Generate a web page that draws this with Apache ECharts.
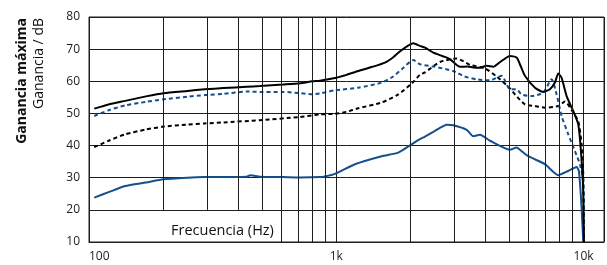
<!DOCTYPE html>
<html>
<head>
<meta charset="utf-8">
<script src="https://cdn.jsdelivr.net/npm/echarts@6/dist/echarts.min.js"></script>
<style>
  html, body { margin: 0; padding: 0; background: #fff; }
  #chart { width: 607px; height: 265px; }
</style>
</head>
<body>
<div id="chart"></div>
<script>
// ---- data ----
var maxFreq = [105, 120, 140, 170, 200, 250, 294, 350, 434, 491, 609, 713, 800, 859, 988, 1100, 1227, 1400, 1574, 1700, 1781, 1900, 2048, 2180, 2285, 2468, 2700, 2883, 3164, 3400, 3580, 3800, 4057, 4314, 4600, 5040, 5364, 5530, 5794, 6362, 6871, 7313, 7661, 7902, 8152, 8543, 9088, 9520, 9760, 9972, 10040];
var maxGain = [51.5, 52.8, 53.9, 55.3, 56.3, 57.0, 57.5, 57.9, 58.3, 58.5, 59.0, 59.4, 60.0, 60.2, 61.0, 62.0, 63.2, 64.5, 65.8, 67.5, 68.9, 70.5, 71.8, 71.0, 70.5, 68.9, 67.8, 66.9, 64.5, 64.6, 64.3, 64.2, 64.8, 64.5, 66.0, 67.9, 67.4, 65.3, 61.7, 58.0, 56.7, 57.5, 59.6, 62.4, 61.1, 55.4, 50.7, 46.6, 38.3, 25.8, 10];

var blueDashFreq = [105, 120, 140, 170, 200, 250, 294, 350, 434, 491, 609, 713, 800, 859, 988, 1227, 1526, 1700, 1838, 2048, 2180, 2468, 2972, 3300, 3696, 4183, 4665, 5040, 5364, 5619, 6170, 6871, 7430, 7785, 8152, 8676, 9230, 9670, 9972, 10040];
var blueDashGain = [49.2, 51.0, 52.5, 53.6, 54.4, 55.2, 55.7, 56.1, 56.8, 56.7, 56.7, 56.3, 56.0, 56.2, 57.2, 58.0, 59.6, 61.5, 63.7, 66.6, 65.3, 64.6, 63.2, 61.5, 60.6, 60.3, 61.7, 57.5, 57.5, 55.9, 55.4, 56.5, 60.6, 55.9, 49.2, 43.5, 38.3, 34.2, 29.0, 10];

var blackDashFreq = [105, 120, 140, 170, 200, 250, 294, 350, 491, 713, 859, 988, 1100, 1227, 1526, 1781, 2018, 2180, 2285, 2627, 3069, 3472, 3994, 4452, 5040, 5300, 5794, 6362, 6982, 7902, 8412, 9088, 9520, 9824, 9972, 10040];
var blackDashGain = [39.5, 41.5, 43.5, 45.0, 45.9, 46.5, 46.9, 47.2, 47.9, 48.9, 49.7, 49.9, 50.5, 51.6, 53.4, 55.9, 59.3, 62.0, 62.8, 66.0, 67.1, 65.1, 64.0, 61.5, 57.8, 55.8, 52.8, 52.3, 51.8, 52.3, 53.7, 50.2, 47.6, 40.4, 31.0, 10];

var blueFreq = [105, 120, 140, 170, 200, 250, 294, 434, 450, 491, 609, 713, 859, 900, 988, 1190, 1526, 1781, 2018, 2180, 2285, 2500, 2800, 2972, 3368, 3580, 3812, 4183, 5040, 5364, 5530, 5976, 6982, 7902, 8676, 9378, 9581, 9824, 9972];
var blueGain = [23.8, 25.5, 27.4, 28.5, 29.5, 30.0, 30.2, 30.3, 30.8, 30.3, 30.2, 30.1, 30.2, 30.4, 31.2, 34.2, 36.7, 37.8, 40.4, 42.0, 42.8, 44.5, 46.5, 46.3, 44.9, 42.9, 43.4, 41.5, 38.7, 39.4, 38.7, 36.7, 34.2, 30.8, 32.1, 33.3, 32.0, 20.6, 10];

// minor grid frequencies (log grid)
var minorShort = [200, 300, 400, 500];
var minorFull = [600, 700, 800, 900, 2000, 3000, 4000, 5000, 6000, 7000, 8000, 9000];
var yTicks = { min: 10, max: 80, step: 10 };

function pairs(xs, ys) {
  return xs.map(function (x, i) { return [x, ys[i]]; });
}

var FONT = "'Open Sans', 'Noto Sans', sans-serif";
var GRID_COLOR = '#1e1e1e';
var BLUE = '#14508c';

var gridLines = [];
minorShort.forEach(function (f) {
  gridLines.push([{ coord: [f, 20] }, { coord: [f, 80] }]);
});
minorFull.forEach(function (f) {
  gridLines.push([{ coord: [f, 10] }, { coord: [f, 80] }]);
});

var myChart = echarts.init(document.getElementById('chart'));
var option = {
  animation: false,
  grid: {
    left: 89, right: 3, top: 17, bottom: 23,
    show: true, borderColor: GRID_COLOR, borderWidth: 1
  },
  xAxis: {
    type: 'log', logBase: 10, min: 100, max: 12100,
    axisLine: { show: true, lineStyle: { color: GRID_COLOR, width: 1 } },
    axisTick: { show: false },
    splitLine: { show: true, lineStyle: { color: GRID_COLOR, width: 1 } },
    axisLabel: {
      margin: 9, color: '#222', fontSize: 12, fontFamily: FONT,
      alignMinLabel: 'left',
      formatter: function (v) {
        var r = Math.round(v);
        if (r === 100) return '100';
        if (r === 1000) return '1k';
        if (r === 10000) return '10k';
        return '';
      }
    }
  },
  yAxis: {
    type: 'value', min: yTicks.min, max: yTicks.max, interval: yTicks.step,
    axisLine: { show: true, lineStyle: { color: GRID_COLOR, width: 1 } },
    axisTick: { show: false },
    splitLine: { show: true, lineStyle: { color: GRID_COLOR, width: 1 } },
    axisLabel: { margin: 9, color: '#222', fontSize: 12, fontFamily: FONT }
  },
  graphic: [
    {
      type: 'text', x: 22, y: 18, rotation: Math.PI / 2,
      style: { text: 'Ganancia máxima', font: 'bold 14px ' + FONT, fill: '#111', align: 'right', verticalAlign: 'middle' }
    },
    {
      type: 'text', x: 39, y: 18, rotation: Math.PI / 2,
      style: { text: 'Ganancia / dB', font: '14px ' + FONT, fill: '#111', align: 'right', verticalAlign: 'middle' }
    },
    {
      type: 'text', x: 171, y: 231,
      style: { text: 'Frecuencia (Hz)', font: '14.5px ' + FONT, fill: '#111', align: 'left', verticalAlign: 'middle' }
    }
  ],
  series: [
    {
      name: 'grid', type: 'line', data: [], z: 1, silent: true,
      markLine: {
        silent: true, symbol: 'none', label: { show: false },
        lineStyle: { color: GRID_COLOR, width: 1, type: 'solid' },
        data: gridLines
      }
    },
    {
      name: 'blue solid', type: 'line', showSymbol: false, smooth: 0.2,
      lineStyle: { color: BLUE, width: 2 },
      data: pairs(blueFreq, blueGain)
    },
    {
      name: 'black dashed', type: 'line', showSymbol: false, smooth: 0.2,
      lineStyle: { color: '#000', width: 2, type: [4, 3] },
      data: pairs(blackDashFreq, blackDashGain)
    },
    {
      name: 'blue dashed', type: 'line', showSymbol: false, smooth: 0.2,
      lineStyle: { color: BLUE, width: 2, type: [4, 3] },
      data: pairs(blueDashFreq, blueDashGain)
    },
    {
      name: 'max gain', type: 'line', showSymbol: false, smooth: 0.2,
      lineStyle: { color: '#000', width: 2 },
      data: pairs(maxFreq, maxGain)
    }
  ]
};
myChart.setOption(option);
window.addEventListener('resize', function () {
  myChart.resize();
});
</script>
</body>
</html>
